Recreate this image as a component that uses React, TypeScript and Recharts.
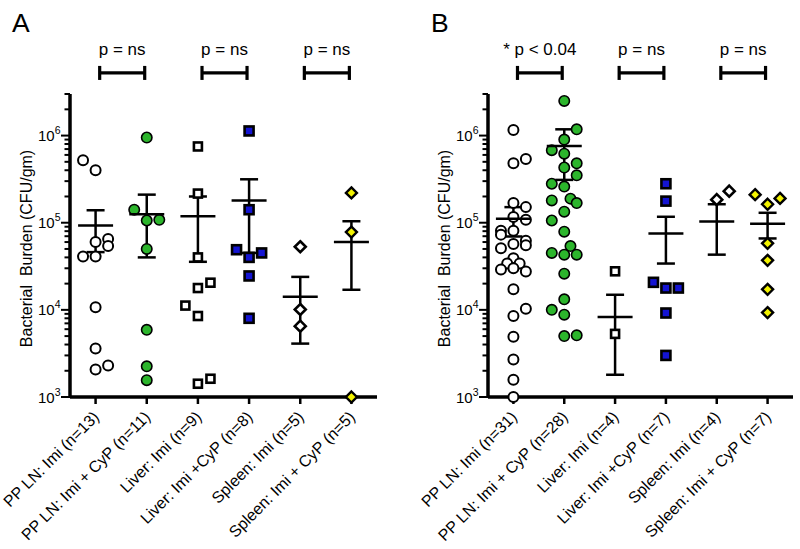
import React from 'react';
import { ScatterChart, Scatter, XAxis, YAxis, ErrorBar, ReferenceLine } from 'recharts';

const FONT = '"Liberation Sans", Arial, Helvetica, sans-serif';

// ---------- tick labels / categories ----------
const labelsA = [
  'PP LN: Imi (n=13)',
  'PP LN: Imi + CyP (n=11)',
  'Liver: Imi (n=9)',
  'Liver: Imi +CyP (n=8)',
  'Spleen: Imi (n=5)',
  'Spleen: Imi + CyP (n=5)',
];
const labelsB = [
  'PP LN: Imi (n=31)',
  'PP LN: Imi + CyP (n=28)',
  'Liver: Imi (n=4)',
  'Liver: Imi +CyP (n=7)',
  'Spleen: Imi (n=4)',
  'Spleen: Imi + CyP (n=7)',
];
const Y_TITLE = 'Bacterial\u00a0 Burden (CFU/gm)';
const sigA = ['p = ns', 'p = ns', 'p = ns'];
const sigB = ['* p < 0.04', 'p = ns', 'p = ns'];

// ---------- panel A values: [CFU/gm, column within group] ----------
const aPPImi: [number, number][] = [[5.2e5, -1], [4.0e5, 0], [6.0e4, 0], [6.5e4, 1], [5.4e4, 1], [4.1e4, -1], [4.1e4, 0], [1.07e4, 0], [3.6e3, 0], [2.07e3, 0], [2.3e3, 1]];
const aPPCyP: [number, number][] = [[9.5e5, 0], [1.41e5, -1], [1.06e5, 0], [1.08e5, 1], [5.0e4, 0], [5.9e3, 0], [2.25e3, 0], [1.56e3, 0]];
const aLivImi: [number, number][] = [[7.5e5, 0], [2.16e5, 0], [4.0e4, 0], [1.78e4, 0], [2.05e4, 1], [1.12e4, -1], [8.5e3, 0], [1.42e3, 0], [1.62e3, 1]];
const aLivCyP: [number, number][] = [[1.13e6, 0], [1.41e5, 0], [4.9e4, -1], [4.0e4, 0], [4.5e4, 1], [2.45e4, 0], [8.0e3, 0]];
const aSplImi: [number, number][] = [[5.3e4, 0], [1.01e4, 0], [6.5e3, 0]];
const aSplCyP: [number, number][] = [[2.2e5, 0], [7.8e4, 0], [1.0e3, 0]];
const meanA = [9.3e4, 1.25e5, 1.19e5, 1.8e5, 1.41e4, 6.0e4];
const semLowA = [4.6e4, 4.0e4, 3.56e4, 4.5e4, 4.1e3, 1.7e4];
const semHighA = [1.39e5, 2.1e5, 2.0e5, 3.15e5, 2.39e4, 1.04e5];

// ---------- panel B values ----------
const bPPImi: [number, number][] = [
  [1.16e6, 0], [4.8e5, 0], [5.4e5, 1], [1.68e5, 0], [1.51e5, 1], [1.16e5, 0], [1.08e5, 1], [8.1e4, -1], [8.1e4, 0],
  [7.3e4, -1], [5.7e4, 0], [6.2e4, 1], [5.5e4, 1], [5.1e4, -1], [3.9e4, 0], [3.4e4, -0.5], [3.4e4, 0.5], [2.9e4, -1],
  [3.0e4, 0], [2.75e4, 1], [1.72e4, 0], [1.03e4, 1], [8.5e3, 0], [4.9e3, 0], [2.7e3, 0], [1.58e3, 0], [1.0e3, 0],
];
const bPPCyP: [number, number][] = [
  [2.5e6, 0], [1.18e6, 1], [9.0e5, 0], [6.8e5, -1], [6.2e5, 0], [4.8e5, 1], [4.3e5, 0], [3.5e5, 1], [2.8e5, -1],
  [2.6e5, 0], [1.8e5, -1], [1.89e5, 0.5], [1.68e5, 1], [1.34e5, 0], [1.06e5, -1], [7.9e4, 0], [5.4e4, 0.5], [4.5e4, -1],
  [4.3e4, 0], [4.3e4, 1], [2.6e4, 0], [1.32e4, 0], [1.0e4, -1], [8.8e3, 0], [5.0e3, 0], [5.1e3, 1],
];
const bLivImi: [number, number][] = [[2.77e4, 0], [5.3e3, 0]];
const bLivCyP: [number, number][] = [[2.8e5, 0], [1.77e5, 0], [2.07e4, -1], [1.78e4, 0], [1.78e4, 1], [9.2e3, 0], [3.0e3, 0]];
const bSplImi: [number, number][] = [[1.84e5, 0], [2.3e5, 1]];
const bSplCyP: [number, number][] = [[2.1e5, -1], [1.63e5, 0], [1.9e5, 1], [5.8e4, 0], [3.7e4, 0], [1.72e4, 0], [9.3e3, 0]];
const meanB = [1.11e5, 7.6e5, 8.3e3, 7.5e4, 1.03e5, 9.7e4];
const semLowB = [6.95e4, 3.1e5, 1.8e3, 3.4e4, 4.3e4, 6.6e4];
const semHighB = [1.51e5, 1.18e6, 1.49e4, 1.17e5, 1.63e5, 1.3e5];

// ---------- layout / style constants ----------
const KINDS = ['circleOpen', 'circleGreen', 'squareOpen', 'squareBlue', 'diamondOpen', 'diamondYellow'];
const COL_STEP = 0.245;
const BR_Y = 5.24e6;
const BR_LO = 4.35e6;
const BR_HI = 6.3e6;
const BR_START = 0.08;
const BR_END = 0.96;

const Y_TICKS: number[] = [];
for (let e = 3; e <= 6; e++) {
  for (let m = 1; m <= 9; m++) {
    const v = m * Math.pow(10, e);
    if (v <= 3e6) Y_TICKS.push(v);
  }
}

const Marker = (props: any) => {
  const { cx, cy, kind } = props;
  if (cx == null || cy == null) return null;
  const d = (h: number) => `M${cx},${cy - h} L${cx + h},${cy} L${cx},${cy + h} L${cx - h},${cy} Z`;
  switch (kind) {
    case 'circleOpen':
      return <circle cx={cx} cy={cy} r={5} fill="#fff" stroke="#000" strokeWidth={2} />;
    case 'circleGreen':
      return <circle cx={cx} cy={cy} r={5.2} fill="#2cb52c" stroke="#000" strokeWidth={1.6} />;
    case 'squareOpen':
      return <rect x={cx - 4} y={cy - 4} width={8} height={8} fill="#fff" stroke="#000" strokeWidth={2.6} />;
    case 'squareBlue':
      return <rect x={cx - 4.5} y={cy - 4.5} width={9} height={9} fill="#1414d2" stroke="#000" strokeWidth={2.6} />;
    case 'diamondOpen':
      return <path d={d(5.5)} fill="#fff" stroke="#000" strokeWidth={2.6} />;
    default:
      return <path d={d(5.5)} fill="#f2f200" stroke="#000" strokeWidth={2.4} />;
  }
};

const MeanLine = (props: any) => {
  const { cx, cy } = props;
  if (cx == null || cy == null) return null;
  return <line x1={cx - 17.5} x2={cx + 17.5} y1={cy} y2={cy} stroke="#000" strokeWidth={2.5} />;
};

const XTick = (props: any) => {
  const { x, y, payload, labels } = props;
  const tx = x + 4.5;
  const ty = y + 12;
  return (
    <text x={tx} y={ty} transform={`rotate(-45, ${tx}, ${ty})`} textAnchor="end" fontSize={16} fontFamily={FONT} fill="#000">
      {labels[payload.value]}
    </text>
  );
};

const YTick = (props: any) => {
  const { x, y, payload } = props;
  const lv = Math.log10(payload.value);
  const e = Math.round(lv);
  const major = Math.abs(lv - e) < 1e-6;
  const len = major ? 9 : 5.5;
  return (
    <g>
      <line x1={x - len} y1={y} x2={x} y2={y} stroke="#000" strokeWidth={2} />
      {major && (
        <text x={x - len - 0.5} y={y} dy={5.5} textAnchor="end" fontSize={15} fontFamily={FONT} fill="#000">
          10<tspan fontSize={10.5} dy={-7}>{e}</tspan>
        </text>
      )}
    </g>
  );
};

const YLabel = (props: any) => {
  const { viewBox } = props;
  if (!viewBox) return null;
  const cx = viewBox.x + viewBox.width - 44;
  const cy = viewBox.y + viewBox.height / 2 + 3;
  return (
    <text x={cx} y={cy} dy="0.35em" transform={`rotate(-90, ${cx}, ${cy})`} textAnchor="middle" fontSize={16} fontFamily={FONT} fill="#000">
      {Y_TITLE}
    </text>
  );
};

type PanelProps = {
  left: number;
  labels: string[];
  groups: [number, number][][];
  means: number[];
  lows: number[];
  highs: number[];
  sig: string[];
  yAxisWidth: number;
  marginRight: number;
};

function Panel({ left, labels, groups, means, lows, highs, sig, yAxisWidth, marginRight }: PanelProps) {
  const pointSets = groups.map((g, i) => g.map(([v, c]) => ({ x: i + c * COL_STEP, y: v })));
  const meanData = means.map((m, i) => ({ x: i, y: m, err: [m - lows[i], highs[i] - m] }));
  const brackets = sig.flatMap((s, k) => {
    const x1 = 2 * k + BR_START;
    const x2 = 2 * k + BR_END;
    return [
      <ReferenceLine
        key={`h${k}`}
        segment={[{ x: x1, y: BR_Y }, { x: x2, y: BR_Y }]}
        ifOverflow="visible"
        stroke="#000"
        strokeWidth={3.2}
        label={{ value: s, position: 'top', offset: 18, fill: '#000', fontSize: 17, fontFamily: FONT }}
      />,
      <ReferenceLine key={`l${k}`} segment={[{ x: x1, y: BR_LO }, { x: x1, y: BR_HI }]} ifOverflow="visible" stroke="#000" strokeWidth={3.2} />,
      <ReferenceLine key={`r${k}`} segment={[{ x: x2, y: BR_LO }, { x: x2, y: BR_HI }]} ifOverflow="visible" stroke="#000" strokeWidth={3.2} />,
    ];
  });
  return (
    <div style={{ position: 'absolute', left, top: 0 }}>
      <ScatterChart width={400} height={549} margin={{ top: 94, right: marginRight, bottom: 3, left: 0 }}>
        <XAxis
          type="number"
          dataKey="x"
          domain={[-0.5, 5.5]}
          ticks={[0, 1, 2, 3, 4, 5]}
          interval={0}
          height={149}
          axisLine={{ stroke: '#000', strokeWidth: 3.5 }}
          tickLine={{ stroke: '#000', strokeWidth: 2.5 }}
          tickSize={7}
          tickMargin={2}
          tick={<XTick labels={labels} />}
        />
        <YAxis
          type="number"
          dataKey="y"
          scale="log"
          domain={[1000, 3000000]}
          ticks={Y_TICKS}
          interval={0}
          width={yAxisWidth}
          axisLine={{ stroke: '#000', strokeWidth: 3.5 }}
          tickLine={false}
          tickSize={0}
          tickMargin={0}
          tick={<YTick />}
          label={<YLabel />}
        />
        {brackets}
        {pointSets.map((pts, i) => (
          <Scatter key={i} data={pts} isAnimationActive={false} shape={<Marker kind={KINDS[i]} />} />
        ))}
        <Scatter data={meanData} isAnimationActive={false} shape={<MeanLine />}>
          <ErrorBar dataKey="err" direction="y" width={9} stroke="#000" strokeWidth={2.5} />
        </Scatter>
      </ScatterChart>
    </div>
  );
}

export default function App() {
  return (
    <div style={{ position: 'absolute', left: 0, top: 0, width: 800, height: 549, background: '#fff', fontFamily: FONT }}>
      <Panel
        left={0}
        labels={labelsA}
        groups={[aPPImi, aPPCyP, aLivImi, aLivCyP, aSplImi, aSplCyP]}
        means={meanA}
        lows={semLowA}
        highs={semHighA}
        sig={sigA}
        yAxisWidth={70}
        marginRight={23}
      />
      <Panel
        left={400}
        labels={labelsB}
        groups={[bPPImi, bPPCyP, bLivImi, bLivCyP, bSplImi, bSplCyP]}
        means={meanB}
        lows={semLowB}
        highs={semHighB}
        sig={sigB}
        yAxisWidth={88}
        marginRight={7}
      />
      <svg width={800} height={549} style={{ position: 'absolute', left: 0, top: 0, pointerEvents: 'none' }}>
        <text x={12} y={32} fontSize={26.5} fontFamily={FONT} fill="#000">A</text>
        <text x={431} y={32} fontSize={26.5} fontFamily={FONT} fill="#000">B</text>
      </svg>
    </div>
  );
}
